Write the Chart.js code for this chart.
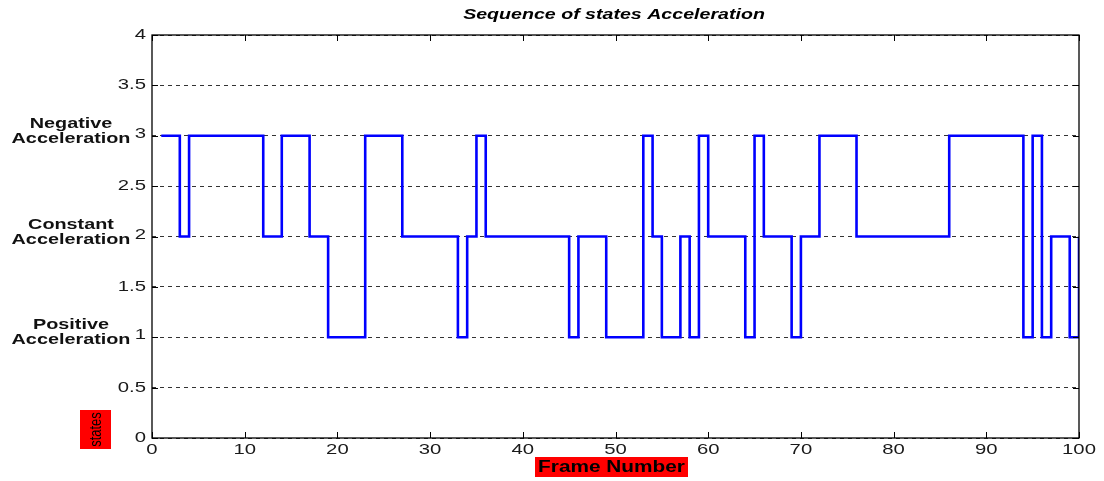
<!DOCTYPE html>
<html>
<head>
<meta charset="utf-8">
<title>Sequence of states Acceleration</title>
<script src="https://cdn.jsdelivr.net/npm/chart.js@4/dist/chart.umd.min.js"></script>
<style>
  html, body { margin: 0; padding: 0; background: #fff; }
  #wrap { width: 1104px; height: 481px; }
</style>
</head>
<body>
<div id="wrap"><canvas id="myChart" width="1104" height="481"></canvas></div>
<script>
'use strict';

// frame numbers along x
const frames = [
  1, 2, 3, 4, 5, 6, 7, 8, 9, 10,
  11, 12, 13, 14, 15, 16, 17, 18, 19, 20,
  21, 22, 23, 24, 25, 26, 27, 28, 29, 30,
  31, 32, 33, 34, 35, 36, 37, 38, 39, 40,
  41, 42, 43, 44, 45, 46, 47, 48, 49, 50,
  51, 52, 53, 54, 55, 56, 57, 58, 59, 60,
  61, 62, 63, 64, 65, 66, 67, 68, 69, 70,
  71, 72, 73, 74, 75, 76, 77, 78, 79, 80,
  81, 82, 83, 84, 85, 86, 87, 88, 89, 90,
  91, 92, 93, 94, 95, 96, 97, 98, 99, 100
];

// state of each frame (1 = positive, 2 = constant, 3 = negative acceleration)
const states = [
  3, 3, 2, 3, 3, 3, 3, 3, 3, 3,
  3, 2, 2, 3, 3, 3, 2, 2, 1, 1,
  1, 1, 3, 3, 3, 3, 2, 2, 2, 2,
  2, 2, 1, 2, 3, 2, 2, 2, 2, 2,
  2, 2, 2, 2, 1, 2, 2, 2, 1, 1,
  1, 1, 3, 2, 1, 1, 2, 1, 3, 2,
  2, 2, 2, 1, 3, 2, 2, 2, 1, 2,
  2, 3, 3, 3, 3, 2, 2, 2, 2, 2,
  2, 2, 2, 2, 2, 3, 3, 3, 3, 3,
  3, 3, 3, 1, 3, 1, 2, 2, 1, 2
];

const stateValues = [1, 2, 3];
const stateNames = [
  ['Positive', 'Acceleration'],
  ['Constant', 'Acceleration'],
  ['Negative', 'Acceleration']
];

const chartTitle = 'Sequence of states Acceleration';
const xTitle = 'Frame Number';
const yTitle = 'states';

let points = [];
for (let i = 0; i < frames.length; i++) {
  points.push({ x: frames[i], y: states[i] });
}

const FONT = "'Liberation Sans', Arial, sans-serif";

// draws text stretched horizontally like the original figure
function wideText(ctx, text, x, y, sx, align) {
  ctx.save();
  ctx.translate(x, y);
  ctx.scale(sx, 1);
  ctx.textAlign = align;
  ctx.fillText(text, 0, 0);
  ctx.restore();
}

const matlabLook = {
  id: 'matlabLook',
  afterDraw(chart) {
    const ctx = chart.ctx;
    const area = chart.chartArea;
    const xs = chart.scales.x;
    const ys = chart.scales.y;

    ctx.save();

    // axes box
    ctx.strokeStyle = '#000';
    ctx.lineWidth = 1.3;
    ctx.setLineDash([]);
    ctx.strokeRect(area.left, area.top, area.right - area.left, area.bottom - area.top);

    // inner tick marks
    ctx.lineWidth = 1;
    ctx.beginPath();
    xs.ticks.forEach(t => {
      const px = Math.round(xs.getPixelForValue(t.value)) + 0.5;
      ctx.moveTo(px, area.bottom); ctx.lineTo(px, area.bottom - 6);
      ctx.moveTo(px, area.top); ctx.lineTo(px, area.top + 6);
    });
    ys.ticks.forEach(t => {
      const py = Math.round(ys.getPixelForValue(t.value)) + 0.5;
      ctx.moveTo(area.left, py); ctx.lineTo(area.left + 6, py);
      ctx.moveTo(area.right, py); ctx.lineTo(area.right - 6, py);
    });
    ctx.stroke();

    // tick labels
    ctx.fillStyle = '#1a1a1a';
    ctx.font = '14.5px ' + FONT;
    ctx.textBaseline = 'middle';
    xs.ticks.forEach(t => {
      wideText(ctx, String(t.value), xs.getPixelForValue(t.value), area.bottom + 12, 1.4, 'center');
    });
    ys.ticks.forEach(t => {
      const py = ys.getPixelForValue(t.value);
      const up = stateValues.includes(t.value) ? 2 : 0;
      wideText(ctx, String(t.value), area.left - 6, py - up, 1.4, 'right');
    });

    // state names next to the y ticks
    ctx.font = 'bold 15px ' + FONT;
    ctx.fillStyle = '#111';
    stateValues.forEach((v, i) => {
      const py = ys.getPixelForValue(v);
      wideText(ctx, stateNames[i][0], 71, py - 12, 1.32, 'center');
      wideText(ctx, stateNames[i][1], 71, py + 3, 1.32, 'center');
    });

    // title
    ctx.font = 'italic bold 14px ' + FONT;
    ctx.fillStyle = '#000';
    wideText(ctx, chartTitle, 614, 15, 1.4, 'center');

    // x axis title on red box
    ctx.fillStyle = '#ff0000';
    ctx.fillRect(535, 457, 153, 20);
    ctx.fillStyle = '#000';
    ctx.font = 'bold 16px ' + FONT;
    wideText(ctx, xTitle, 611.5, 468, 1.3, 'center');

    // y axis title on red box, rotated
    ctx.fillStyle = '#ff0000';
    ctx.fillRect(80, 410, 31, 39);
    ctx.fillStyle = '#000';
    ctx.font = '17px ' + FONT;
    ctx.translate(96, 429.5);
    ctx.rotate(-Math.PI / 2);
    ctx.scale(0.76, 1);
    ctx.textAlign = 'center';
    ctx.fillText(yTitle, 0, 0);

    ctx.restore();
  }
};

let ctx = document.getElementById('myChart').getContext('2d');
let myChart = new Chart(ctx, {
  type: 'line',
  data: {
    datasets: [{
      label: 'states',
      data: points,
      borderColor: '#0000ff',
      borderWidth: 2.6,
      stepped: true,
      pointRadius: 0,
      fill: false
    }]
  },
  options: {
    responsive: false,
    animation: false,
    layout: { padding: { left: 0, right: 25, top: 35, bottom: 0 } },
    plugins: {
      legend: { display: false },
      title: { display: false },
      tooltip: { enabled: false }
    },
    scales: {
      x: {
        type: 'linear',
        min: 0,
        max: 100,
        ticks: { stepSize: 10, display: false },
        grid: { display: false },
        border: { display: false },
        afterFit(scale) { scale.height = 43; }
      },
      y: {
        type: 'linear',
        min: 0,
        max: 4,
        ticks: { stepSize: 0.5, display: false },
        grid: { color: '#333', lineWidth: 1, drawTicks: false },
        border: { display: false, dash: [4, 4] },
        afterFit(scale) { scale.width = 152; }
      }
    }
  },
  plugins: [matlabLook]
});
</script>
</body>
</html>
